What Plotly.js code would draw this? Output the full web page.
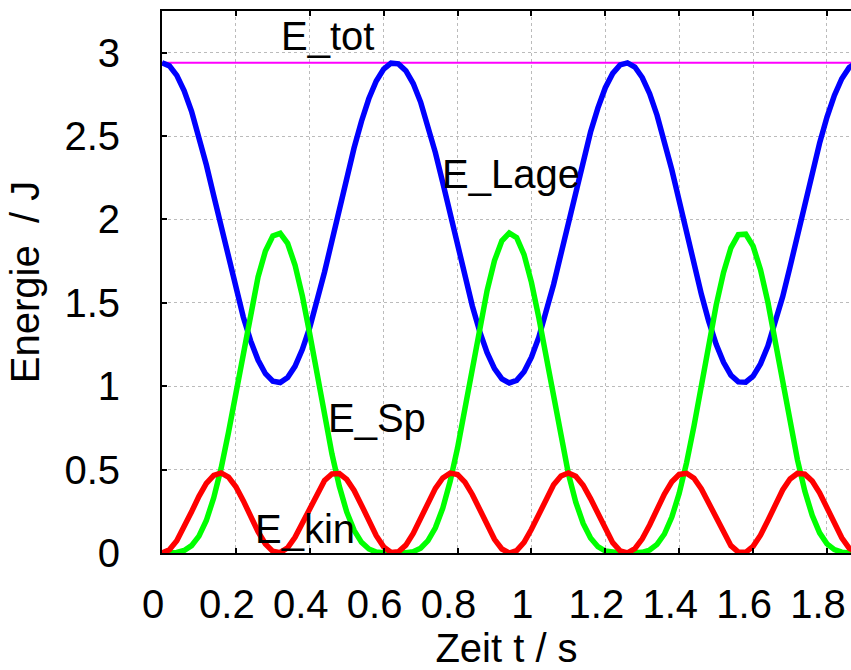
<!DOCTYPE html>
<html>
<head>
<meta charset="utf-8">
<script src="https://cdn.plot.ly/plotly-3.0.1.min.js"></script>
<style>html,body{margin:0;padding:0;background:#fff;}#chart{width:851px;height:670px;}</style>
</head>
<body>
<div id="chart"></div>
<script>
const time = [0,0.02,0.04,0.06,0.08,0.1,0.12,0.14,0.16,0.18,0.2,0.22,0.24,0.26,0.28,0.3,0.32,0.34,0.36,0.38,0.4,0.42,0.44,0.46,0.48,0.5,0.52,0.54,0.56,0.58,0.6,0.62,0.64,0.66,0.68,0.7,0.72,0.74,0.76,0.78,0.8,0.82,0.84,0.86,0.88,0.9,0.92,0.94,0.96,0.98,1,1.02,1.04,1.06,1.08,1.1,1.12,1.14,1.16,1.18,1.2,1.22,1.24,1.26,1.28,1.3,1.32,1.34,1.36,1.38,1.4,1.42,1.44,1.46,1.48,1.5,1.52,1.54,1.56,1.58,1.6,1.62,1.64,1.66,1.68,1.7,1.72,1.74,1.76,1.78,1.8,1.82,1.84,1.86,1.88];
const eLage = [2.94,2.921,2.864,2.772,2.649,2.499,2.328,2.143,1.952,1.762,1.580,1.415,1.272,1.157,1.075,1.030,1.022,1.052,1.119,1.221,1.353,1.509,1.685,1.872,2.064,2.252,2.430,2.589,2.725,2.830,2.902,2.937,2.933,2.892,2.815,2.704,2.564,2.401,2.221,2.032,1.840,1.654,1.481,1.328,1.201,1.105,1.044,1.020,1.035,1.087,1.174,1.294,1.441,1.610,1.794,1.984,2.175,2.357,2.524,2.669,2.790,2.876,2.927,2.939,2.914,2.851,2.754,2.625,2.472,2.298,2.111,1.920,1.730,1.551,1.389,1.251,1.143,1.066,1.026,1.024,1.061,1.134,1.241,1.377,1.536,1.716,1.904,2.096,2.282,2.458,2.614,2.744,2.844,2.911,2.939];
const eSp = [0,0,0.003,0.015,0.044,0.101,0.195,0.331,0.508,0.723,0.963,1.211,1.449,1.655,1.811,1.901,1.917,1.857,1.727,1.540,1.313,1.066,0.820,0.594,0.400,0.246,0.136,0.064,0.024,0.006,0.001,0,0,0.001,0.008,0.029,0.074,0.151,0.269,0.430,0.630,0.861,1.108,1.353,1.574,1.753,1.872,1.919,1.891,1.789,1.623,1.411,1.170,0.921,0.684,0.476,0.305,0.177,0.090,0.038,0.012,0.002,0,0,0,0.004,0.018,0.052,0.114,0.215,0.358,0.542,0.762,1.005,1.253,1.486,1.682,1.830,1.909,1.912,1.840,1.699,1.504,1.273,1.026,0.780,0.559,0.371,0.226,0.121,0.055,0.020,0.005,0,0];
const eKin = [0,0.019,0.073,0.153,0.247,0.340,0.417,0.466,0.480,0.455,0.397,0.314,0.219,0.128,0.054,0.010,0.002,0.031,0.094,0.180,0.275,0.365,0.435,0.474,0.476,0.441,0.375,0.287,0.191,0.104,0.037,0.003,0.007,0.047,0.117,0.207,0.302,0.388,0.450,0.479,0.470,0.425,0.351,0.259,0.164,0.082,0.024,0,0.015,0.064,0.142,0.235,0.329,0.409,0.462,0.480,0.460,0.406,0.326,0.233,0.138,0.062,0.013,0.001,0.026,0.085,0.168,0.263,0.354,0.427,0.471,0.478,0.448,0.384,0.298,0.203,0.115,0.044,0.005,0.004,0.040,0.107,0.195,0.290,0.378,0.444,0.477,0.473,0.432,0.361,0.271,0.176,0.091,0.029,0.001];
const eTotValue = 2.94;
const eTot = time.map(() => eTotValue);
const xTicks = [0,0.2,0.4,0.6,0.8,1,1.2,1.4,1.6,1.8];
const xTickLabels = ['0','0.2','0.4','0.6','0.8','1','1.2','1.4','1.6','1.8'];
const yTicks = [0,0.5,1,1.5,2,2.5,3];
const yTickLabels = ['0','0.5','1','1.5','2','2.5','3'];
const labels = [
  {text:'E_tot', x:0.318, y:3.102},
  {text:'E_Lage', x:0.752, y:2.274},
  {text:'E_Sp', x:0.443, y:0.811},
  {text:'E_kin', x:0.246, y:0.141}
];

const font = 'Liberation Sans, Arial, sans-serif';
const traces = [
  {x:time, y:eTot, mode:'lines', line:{color:'#ff00ff', width:2}, name:'E_tot'},
  {x:time, y:eLage, mode:'lines', line:{color:'#0000ff', width:5.5}, name:'E_Lage'},
  {x:time, y:eSp, mode:'lines', line:{color:'#00ff00', width:5.5}, name:'E_Sp'},
  {x:time, y:eKin, mode:'lines', line:{color:'#ff0000', width:5.5}, name:'E_kin'}
];
const layout = {
  width:851, height:670,
  margin:{l:162, r:0, t:11, b:117},
  paper_bgcolor:'#fff', plot_bgcolor:'#fff',
  showlegend:false,
  font:{family:font, size:40, color:'#000'},
  xaxis:{
    range:[0,1.865], tickvals:xTicks, ticktext:xTickLabels,
    ticks:'inside', ticklen:5, tickwidth:2, tickcolor:'#000',
    showline:true, linecolor:'#000', linewidth:2, mirror:'ticks',
    showgrid:true, gridcolor:'#bbbbbb', gridwidth:1, griddash:'dot',
    zeroline:false, ticklabelstandoff:15, ticklabelshift:-9, ticklabeloverflow:'allow',
    tickfont:{family:font, size:40, color:'#000'},
    title:{text:'Zeit t / s', font:{family:font, size:40, color:'#000'}, standoff:0}
  },
  yaxis:{
    range:[0,3.25], tickvals:yTicks, ticktext:yTickLabels,
    ticks:'inside', ticklen:5, tickwidth:2, tickcolor:'#000',
    showline:true, linecolor:'#000', linewidth:2, mirror:false,
    showgrid:true, gridcolor:'#bbbbbb', gridwidth:1, griddash:'dot',
    zeroline:false, ticklabelstandoff:32, ticklabeloverflow:'allow',
    tickfont:{family:font, size:40, color:'#000'},
    title:{text:'Energie\u00A0 / J', font:{family:font, size:40, color:'#000'}, standoff:12}
  },
  annotations: labels.map(l => ({
    x:l.x, y:l.y, xref:'x', yref:'y', text:l.text, showarrow:false,
    xanchor:'left', yanchor:'middle', font:{family:font, size:40, color:'#000'}
  }))
};
Plotly.newPlot('chart', traces, layout, {displayModeBar:false, staticPlot:true});
</script>
</body>
</html>
